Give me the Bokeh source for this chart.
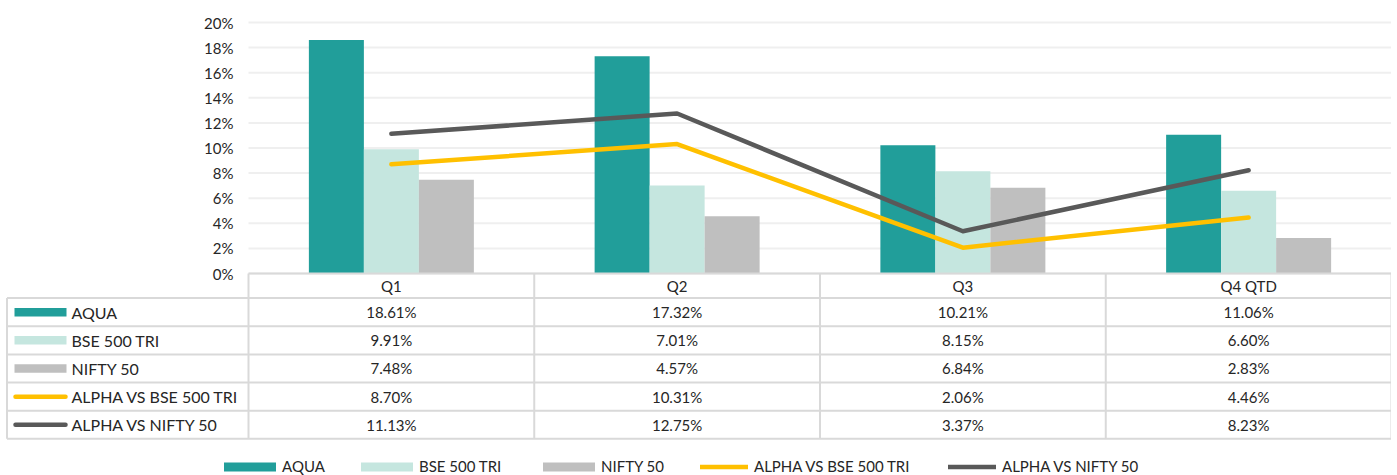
import numpy as np
from bokeh.plotting import figure
from bokeh.models import Range1d, Legend, LegendItem
from bokeh.core.properties import value
from bokeh.embed import file_html
from bokeh.resources import INLINE

# ---------------- data ----------------
quarters = ["Q1", "Q2", "Q3", "Q4 QTD"]
aqua = [18.61, 17.32, 10.21, 11.06]
bse500_tri = [9.91, 7.01, 8.15, 6.60]
nifty50 = [7.48, 4.57, 6.84, 2.83]
alpha_vs_bse = [8.70, 10.31, 2.06, 4.46]
alpha_vs_nifty = [11.13, 12.75, 3.37, 8.23]
bar_names = ["AQUA", "BSE 500 TRI", "NIFTY 50"]
line_names = ["ALPHA VS BSE 500 TRI", "ALPHA VS NIFTY 50"]
y_ticks = [0, 2, 4, 6, 8, 10, 12, 14, 16, 18, 20]
y_tick_labels = ["0%", "2%", "4%", "6%", "8%", "10%", "12%", "14%", "16%", "18%", "20%"]

# ---------------- style ----------------
FONT = "Lato"
FSIZE = "15px"
LSIZE = "16px"
TXT = "#262626"
bar_colors = ["#219E9A", "#C5E6DF", "#BFBFBF"]
line_colors = ["#FFC000", "#595959"]
GRID = "#EFEFEF"
BORDER = "#D9D9D9"

W, H = 1391, 475          # figure covers page from (0, 0)
ZERO_Y, TOP_Y = 273, 22   # pixel rows of 0% and 20%
CHART_L = 248             # pixel column where chart/table columns start
px_per_pct = (ZERO_Y - TOP_Y) / 20.0
col_w = (W - CHART_L) / len(quarters)

p = figure(width=W, height=H, output_backend="svg", toolbar_location=None,
           x_range=Range1d(0, W), y_range=Range1d(H, 0),
           x_axis_location=None, y_axis_location=None,
           min_border=0, min_border_left=0, min_border_right=0,
           min_border_top=0, min_border_bottom=0)
p.outline_line_color = None
p.grid.visible = False
p.background_fill_color = "white"

p.extra_y_ranges = {"pct": Range1d(-(H - ZERO_Y) / px_per_pct, 20 + TOP_Y / px_per_pct)}
p.extra_x_ranges = {"cat": Range1d(-CHART_L / col_w, len(quarters))}

n = len(quarters)
xc = np.arange(n) + 0.5

# gridlines
p.segment(x0=0, x1=n, y0=y_ticks, y1=y_ticks, x_range_name="cat", y_range_name="pct",
          line_color=GRID, line_width=2)
# y tick labels
p.text(x=[233] * len(y_ticks), y=y_ticks, text=y_tick_labels, y_range_name="pct",
       text_align="right", text_baseline="middle", text_font=value(FONT),
       text_font_size=FSIZE, text_color=TXT)

# bars
bw = 55 / col_w
series_bars = [aqua, bse500_tri, nifty50]
bar_renderers = []
for i, (vals, c) in enumerate(zip(series_bars, bar_colors)):
    r = p.vbar(x=xc + (i - 1) * bw, top=vals, bottom=0, width=bw,
               x_range_name="cat", y_range_name="pct",
               fill_color=c, line_color=None)
    bar_renderers.append(r)

# lines
series_lines = [alpha_vs_bse, alpha_vs_nifty]
line_renderers = []
for vals, c in zip(series_lines, line_colors):
    r = p.line(x=xc, y=vals, x_range_name="cat", y_range_name="pct",
               line_color=c, line_width=4.5, line_cap="round", line_join="round")
    line_renderers.append(r)

# ---------------- data table ----------------
TBL_L = 6.5
HEAD_TOP = 273
HEAD_H = 24.6
ROW_H = 28.15
row_tops = [HEAD_TOP + HEAD_H + k * ROW_H for k in range(6)]
# horizontal borders
p.segment(x0=0, x1=n, y0=HEAD_TOP, y1=HEAD_TOP, x_range_name="cat",
          line_color=BORDER, line_width=2)
p.segment(x0=TBL_L, x1=W, y0=row_tops, y1=row_tops, line_color=BORDER, line_width=2)
# vertical borders
p.segment(x0=list(range(n + 1)), x1=list(range(n + 1)), y0=HEAD_TOP, y1=row_tops[-1],
          x_range_name="cat", line_color=BORDER, line_width=2)
p.segment(x0=TBL_L, x1=TBL_L, y0=row_tops[0], y1=row_tops[-1], line_color=BORDER, line_width=2)

# header text
p.text(x=xc, y=[HEAD_TOP + HEAD_H / 2] * n, text=quarters, x_range_name="cat",
       text_align="center", text_baseline="middle", text_font=value(FONT),
       text_font_size=FSIZE, text_color=TXT)

all_series = series_bars + series_lines
all_names = bar_names + line_names
row_mid = [t + ROW_H / 2 for t in row_tops[:5]]
for k, vals in enumerate(all_series):
    p.text(x=xc, y=[row_mid[k]] * n, text=[f"{v:.2f}%" for v in vals], x_range_name="cat",
           text_align="center", text_baseline="middle", text_font=value(FONT),
           text_font_size=FSIZE, text_color=TXT)
p.text(x=[71] * 5, y=row_mid, text=all_names, text_align="left", text_baseline="middle",
       text_font=value(FONT), text_font_size=LSIZE, text_color=TXT)
# swatches in table
p.rect(x=[40] * 3, y=row_mid[:3], width=52, height=8.5, fill_color=bar_colors, line_color=None)
p.segment(x0=15, x1=65, y0=row_mid[3:], y1=row_mid[3:], line_color=line_colors,
          line_width=4.5, line_cap="round")

# ---------------- legend ----------------
# bar swatches are inset 10% per side by bokeh, so the glyph box is enlarged to 65x11
legend_specs = [
    (bar_names[0], bar_renderers[0], 217, 65, 11, 0),
    (bar_names[1], bar_renderers[1], 354, 65, 11, 0),
    (bar_names[2], bar_renderers[2], 536, 65, 11, 0),
    (line_names[0], line_renderers[0], 700, 48, 9, 6),
    (line_names[1], line_renderers[1], 948, 48, 9, 6),
]
for nm, r, lx, gw, gh, so in legend_specs:
    lg = Legend(items=[LegendItem(label=nm, renderers=[r])], orientation="horizontal",
                location=(lx, 0), glyph_width=gw, glyph_height=gh,
                label_height=11, label_standoff=so,
                padding=0, margin=0, border_line_alpha=0, background_fill_alpha=0,
                label_text_font=FONT, label_text_font_size=FSIZE, label_text_color=TXT)
    p.add_layout(lg)

open("out.html", "w").write(file_html(p, INLINE))
